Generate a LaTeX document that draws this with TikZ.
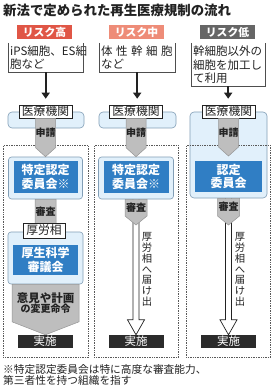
\documentclass[tikz,border=0pt]{standalone}
\usepackage{fontspec}
\setmainfont{Noto Sans CJK JP}
\usepackage{tikz}
\usetikzlibrary{arrows.meta,positioning,calc}
\definecolor{inkgray}{RGB}{34,34,34}
\definecolor{riskhigh}{RGB}{224,86,70}
\definecolor{riskmid}{RGB}{238,140,120}
\definecolor{risklow}{RGB}{102,102,102}
\definecolor{paleblue}{RGB}{225,240,251}
\definecolor{edgeblue}{RGB}{130,158,182}
\definecolor{boardblue}{RGB}{48,126,196}
\definecolor{stepgray}{RGB}{190,190,190}
\definecolor{stepedge}{RGB}{150,150,150}
\definecolor{doneblack}{RGB}{43,43,43}

\newcommand{\fsz}[2]{\fontsize{#1}{#2}\selectfont}
% gray step arrow: name, top anchor, tip anchor, half width, tip height, label
\newcommand{\steparrow}[6]{%
  \filldraw[stepfill] ($(#2)+(-#4,0)$) -- ($(#2 |- #3)+(-#4,-#5)$) -- (#2 |- #3)
    -- ($(#2 |- #3)+(#4,-#5)$) -- ($(#2)+(#4,0)$) -- cycle;
  \node[steptext] (#1) at ($(#2)!0.5!(#2 |- #3)+(0,-#5/2)$) {#6};}
% hollow arrow from one anchor down to another
\newcommand{\hollowarrow}[2]{%
  \filldraw[hollowline] ($(#1)+(-3,0)$) -- ($(#1 |- #2)+(-3,-15)$) -- ($(#1 |- #2)+(-8.5,-15)$)
    -- (#1 |- #2) -- ($(#1 |- #2)+(8.5,-15)$) -- ($(#1 |- #2)+(3,-15)$) -- ($(#1)+(3,0)$);}

\begin{document}
\begin{tikzpicture}[x=1pt,y=-1pt,
  every node/.style={text=inkgray},
  risktag/.style={minimum width=55,minimum height=14,inner sep=0,text=white,font=\bfseries\fsz{10.8}{10.8}},
  descbox/.style={anchor=north west,inner xsep=2,inner ysep=1,align=left,font=\fsz{11.5}{13.5}},
  descline/.style={draw=inkgray!80,line width=0.6pt},
  blackarrow/.style={inkgray,line width=2.2pt,-{Triangle[width=8pt,length=6pt]},shorten >=6pt},
  paleband/.style={fill=paleblue,draw=edgeblue,line width=0.6pt,rounded corners=4,inner sep=0},
  hosplabel/.style={draw=inkgray,fill=white,line width=0.6pt,minimum width=53,minimum height=13,inner sep=0,font=\fsz{11.8}{11.8}},
  colframe/.style={draw=inkgray!75,densely dotted,line width=0.7pt,anchor=north west,minimum width=85,minimum height=212,inner sep=0},
  boardbox/.style={fill=boardblue,text=white,inner sep=0,align=center,font=\bfseries\fsz{12}{13.5}},
  stepfill/.style={fill=stepgray,draw=stepedge,line width=0.5pt},
  steptext/.style={align=center,inner sep=0,font=\bfseries\fsz{10}{10}},
  hollowline/.style={fill=white,draw=inkgray,line width=0.7pt},
  vtext/.style={align=center,inner sep=0,font=\fsz{10.3}{10.8}},
  donebox/.style={fill=doneblack,text=white,minimum width=55,minimum height=13,inner sep=0,font=\fsz{11.5}{11.5}}]
  \fill[white] (0,0) rectangle (274,390);
  \useasboundingbox (0,0) rectangle (274,390);

  % title and risk levels
  \node[anchor=west,inner sep=0,font=\bfseries\fsz{13.4}{13.4}] (title) at (3,10) {新法で定められた再生医療規制の流れ};
  \node[risktag,fill=riskhigh] (riskA) at (44.5,32) {リスク高};
  \node[risktag,fill=riskmid] (riskB) at (136.5,32) {リスク中};
  \node[risktag,fill=risklow] (riskC) at (227.5,32) {リスク低};

  \node[descbox,text width=71,minimum height=29] (descA) at (8,43) {iPS細胞、ES細\\胞など};
  \node[descbox,text width=72,minimum height=29] (descB) at (99,43) {体\kern3.5pt性\kern3.5pt幹\kern3.5pt細\kern3.5pt胞\\など};
  \node[descbox,text width=70,minimum height=43] (descC) at (191,43) {幹細胞以外の\\細胞を加工し\\て利用};
  \foreach \d in {descA,descB,descC}
    \draw[descline] (\d.north west) -- (\d.south west) -- (\d.south east) -- (\d.north east);

  % light bands behind the hospitals
  \node[paleband,minimum width=76,minimum height=16] (bandA) at (46,120) {};
  \node[paleband,minimum width=77,minimum height=16] (bandB) at (137.5,120) {};
  \node[paleband,minimum width=77,minimum height=86] (bandC) at (228.5,155) {};

  \node[hosplabel] (hospA) at (45.5,111.5) {医療機関};
  \node[hosplabel] (hospB) at (136,111.5) {医療機関};
  \node[hosplabel] (hospC) at (228.5,111.5) {医療機関};
  \draw[blackarrow] (descA.south) -- (descA.south |- hospA.north);
  \draw[blackarrow] (descB.south) -- (descB.south |- hospB.north);
  \draw[blackarrow] (descC.south) -- (descC.south |- hospC.north);

  % dotted column frames
  \node[colframe] (frameA) at (3,145) {};
  \node[colframe,minimum width=84] (frameB) at (94,145) {};
  \node[colframe,minimum width=84] (frameC) at (186,145) {};

  \node[paleband,rounded corners=3,minimum width=74,minimum height=42] (commA) at (45.5,178) {};
  \node[paleband,rounded corners=3,minimum width=75,minimum height=42] (commB) at (136,178) {};
  \node[paleband,rounded corners=3,minimum width=75,minimum height=52] (mhlwBoxA) at (45.5,258) {};

  \node[donebox] (doA) at (45,341.5) {実施};
  \node[donebox] (doB) at (136,341.5) {実施};
  \node[donebox] (doC) at (228.5,341.5) {実施};

  \coordinate (applyTipC) at (228.5,156);
  \coordinate (tipB) at (136,225);
  \coordinate (tipC) at (228.5,225);

  \hollowarrow{commB.south}{doB.north}
  \hollowarrow{bandC.south}{doC.north}
  \node[vtext] (noteB) at (147,269.5) {厚\\労\\相\\へ\\届\\け\\出};
  \node[vtext] (noteC) at (240,269.5) {厚\\労\\相\\へ\\届\\け\\出};

  % gray steps
  \steparrow{applyA}{hospA.south}{commA.north}{10}{9}{申請}
  \steparrow{applyB}{hospB.south}{commB.north}{10}{9}{申請}
  \steparrow{applyC}{hospC.south}{applyTipC}{10}{9}{申請}
  \steparrow{examA}{commA.south}{mhlwBoxA.north}{10.5}{8}{審査}
  \steparrow{examB}{commB.south}{tipB}{11}{9}{審査}
  \steparrow{examC}{bandC.south}{tipC}{11}{9}{審査}
  \steparrow{orderA}{mhlwBoxA.south}{doA.north}{33.5}{13}{\fsz{11.5}{13}意見や計画\\の変更命令}

  \node[hosplabel,minimum width=42,minimum height=15] (mhlwA) at (44,230.5) {厚労相};
  \node[boardbox,minimum width=64,minimum height=32] (boardA) at (45.5,177) {特定認定\\委員会※};
  \node[boardbox,minimum width=65,minimum height=32] (boardB) at (136,177) {特定認定\\委員会※};
  \node[boardbox,minimum width=67,minimum height=31] (boardC) at (228.5,176.5) {認定\\委員会};
  \node[boardbox,minimum width=65,minimum height=30] (councilA) at (45.5,260) {厚生科学\\審議会};

  \node[anchor=north west,align=left,inner sep=0,font=\fsz{10.7}{11.5}] (note) at (3,364)
    {※特定認定委員会は特に高度な審査能力、\\第三者性を持つ組織を指す};
\end{tikzpicture}
\end{document}
